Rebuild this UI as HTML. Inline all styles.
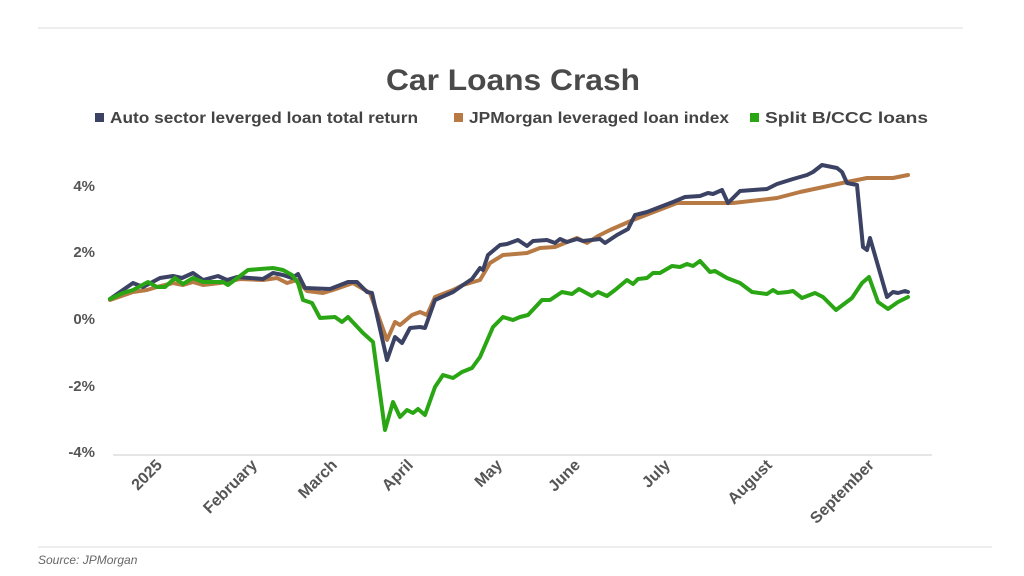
<!DOCTYPE html>
<html><head><meta charset="utf-8"><style>
html,body{margin:0;padding:0;background:#fff;}
svg{display:block;font-family:"Liberation Sans",sans-serif;}
</style></head><body>
<svg width="1024" height="576" viewBox="0 0 1024 576">
<line x1="38" y1="28" x2="963" y2="28" stroke="#ddd" stroke-width="1"/>
<text x="513" y="90" text-anchor="middle" font-size="30" font-weight="bold" fill="#4a4a4a" textLength="254" lengthAdjust="spacingAndGlyphs">Car Loans Crash</text>
<rect x="95" y="113" width="9" height="9" fill="#3b4263"/>
<text x="110" y="123" font-size="16" font-weight="bold" fill="#444" textLength="308" lengthAdjust="spacingAndGlyphs">Auto sector leverged loan total return</text>
<rect x="454" y="113" width="9" height="9" fill="#b87a45"/>
<text x="469" y="123" font-size="16" font-weight="bold" fill="#444" textLength="260" lengthAdjust="spacingAndGlyphs">JPMorgan leveraged loan index</text>
<rect x="750" y="113" width="9" height="9" fill="#2aa614"/>
<text x="765" y="123" font-size="16" font-weight="bold" fill="#444" textLength="163" lengthAdjust="spacingAndGlyphs">Split B/CCC loans</text>
<g font-size="15" font-weight="bold" fill="#555" text-anchor="end">
<text x="95" y="191">4%</text>
<text x="95" y="257">2%</text>
<text x="95" y="324">0%</text>
<text x="95" y="391">-2%</text>
<text x="95" y="457">-4%</text>
</g>
<line x1="113" y1="455" x2="932" y2="455" stroke="#ddd" stroke-width="1.5"/>
<g font-size="16" font-weight="bold" fill="#555" text-anchor="end">
<text transform="translate(163,466) rotate(-45)">2025</text>
<text transform="translate(258,466) rotate(-45)">February</text>
<text transform="translate(338,466) rotate(-45)">March</text>
<text transform="translate(414,466) rotate(-45)">April</text>
<text transform="translate(503,466) rotate(-45)">May</text>
<text transform="translate(581,466) rotate(-45)">June</text>
<text transform="translate(671,466) rotate(-45)">July</text>
<text transform="translate(773,466) rotate(-45)">August</text>
<text transform="translate(875,466) rotate(-45)">September</text>
</g>
<g fill="none" stroke-width="4" stroke-linejoin="round" stroke-linecap="round">
<polyline stroke="#b87a45" points="110,300 133,292 147,290 157,287 173,283 183,285 193,282 203,285 220,283 240,279 263,280 277,278 287,283 297,280 307,291 323,293 333,290 353,283 370,293 387,340 395,322 400,325 412,315 420,312 427,315 435,297 453,290 463,285 480,280 490,263 503,255 527,253 540,248 555,247 577,238 587,243 598,236 610,230 633,220 677,203 733,203 777,198 800,192 847,182 867,178 893,178 908,175"/>
<polyline stroke="#3b4263" points="110,299 133,283 143,287 160,278 173,276 182,278 193,273 203,280 218,276 227,280 237,277 263,279 273,273 283,275 292,278 298,274 305,288 330,289 348,282 357,282 367,292 372,293 387,360 395,337 402,343 410,328 420,327 425,328 435,300 453,292 463,285 472,279 480,268 483,270 488,255 500,245 507,244 518,240 527,246 533,241 547,240 555,243 560,239 567,242 577,239 583,241 600,239 605,243 617,235 628,229 635,215 647,212 660,207 673,202 685,197 700,196 708,193 713,194 722,190 728,203 740,191 767,189 777,184 793,179 807,175 813,172 822,165 837,168 842,172 847,183 857,185 863,247 867,250 870,238 887,297 893,292 898,293 905,291 908,292"/>
<polyline stroke="#2aa614" points="110,299 123,293 133,290 148,282 157,287 165,287 175,278 183,284 193,278 203,282 223,282 228,285 248,270 273,268 283,270 292,275 298,283 303,300 312,303 320,318 335,317 342,322 348,317 363,333 373,342 385,430 393,402 400,417 407,410 413,413 418,409 425,415 435,387 443,375 453,378 462,372 472,368 480,357 493,327 503,317 513,320 520,317 528,315 542,300 550,300 562,292 572,294 579,289 592,296 598,292 607,296 615,290 627,280 633,284 638,279 647,278 653,273 660,273 672,266 680,267 687,264 693,266 700,261 710,272 715,271 727,278 740,283 752,292 767,294 773,290 778,293 788,292 793,291 802,298 815,293 823,297 836,310 852,298 862,283 869,277 878,302 888,309 898,302 908,297"/>
</g>
<line x1="38" y1="547" x2="992" y2="547" stroke="#ddd" stroke-width="1"/>
<text x="38" y="564" font-size="12" font-style="italic" fill="#666">Source: JPMorgan</text>
</svg>
</body></html>
